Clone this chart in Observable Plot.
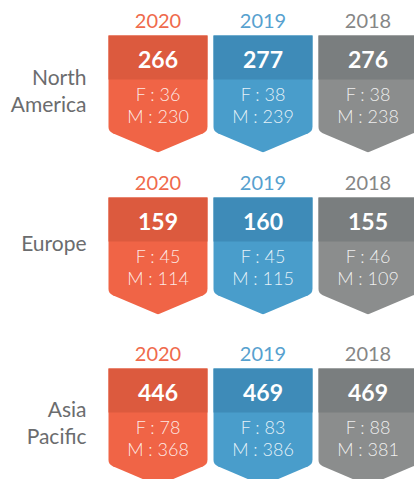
<!DOCTYPE html>
<html>
<head>
<meta charset="utf-8">
<script src="https://cdn.jsdelivr.net/npm/d3@7"></script>
<script src="https://cdn.jsdelivr.net/npm/@observablehq/plot@0.6"></script>
<style>
  html, body { margin: 0; padding: 0; background: #fff; }
  #chart svg { display: block; }
  g[aria-label="years"] text { letter-spacing: 0.6px; }
  g[aria-label="totals"] text { letter-spacing: 1.6px; }
  g[aria-label="split"] text { letter-spacing: 1.4px; }
  g[aria-label="region"] text { letter-spacing: 0.6px; }
</style>
</head>
<body>
<div id="chart"></div>
<script>
// ---- data ----
const regions = ["North America", "Europe", "Asia Pacific"];
const years = ["2020", "2019", "2018"];
const totals = [[266, 277, 276], [159, 160, 155], [446, 469, 469]];
const female = [[36, 38, 38], [45, 45, 46], [78, 83, 88]];
const male = [[230, 239, 238], [114, 115, 109], [368, 386, 381]];

// ---- styling ----
const yearColors = {"2020": "#ef6a4c", "2019": "#57a1cf", "2018": "#868686"};
const bodyColors = {"2020": "#f06446", "2019": "#499dcb", "2018": "#8b8d8d"};
const headColors = {"2020": "#dc5a3e", "2019": "#3e8bb8", "2018": "#7a7e7f"};
const panelHeights = [162, 171, 146];
const labelDy = [54, 45, 53];
const FONT = "Lato, 'Open Sans', sans-serif";

const W = 99, H = W / 2;
const badge = {
  draw(ctx) {
    ctx.moveTo(-H, 0);
    ctx.lineTo(H, 0);
    ctx.arcTo(H, 96, 0, 117, 7);
    ctx.arcTo(0, 117, -H, 96, 4);
    ctx.arcTo(-H, 96, -H, 0, 7);
    ctx.closePath();
  }
};
const head = {
  draw(ctx) {
    ctx.rect(-H, 0, W, 44);
  }
};

const chart = document.getElementById("chart");
regions.forEach((region, i) => {
  const rows = years.map((y, j) => ({
    year: y, total: totals[i][j], f: female[i][j], m: male[i][j]
  }));
  const plot = Plot.plot({
    width: 414,
    height: panelHeights[i],
    marginTop: 35,
    marginBottom: 0,
    marginLeft: 0,
    marginRight: 0,
    x: {type: "band", domain: years, range: [104, 421], padding: 0, axis: null},
    color: {type: "identity"},
    style: {fontFamily: FONT, background: "#fff"},
    marks: [
      Plot.dot(rows, {x: "year", frameAnchor: "top", symbol: badge, fill: d => bodyColors[d.year], stroke: "none"}),
      Plot.dot(rows, {x: "year", frameAnchor: "top", symbol: head, fill: d => headColors[d.year], stroke: "none"}),
      Plot.text(rows, {x: "year", frameAnchor: "top", dy: -14, text: "year", fill: d => yearColors[d.year],
        fontSize: 20, lineAnchor: "middle", ariaLabel: "years"}),
      Plot.text(rows, {x: "year", frameAnchor: "top", dy: 25, text: d => String(d.total), fill: "#fff",
        fontSize: 23, fontWeight: "bold", lineAnchor: "middle", ariaLabel: "totals"}),
      Plot.text(rows, {x: "year", frameAnchor: "top", dy: 60, text: d => `F : ${d.f}`, fill: "#fff", fillOpacity: 0.88,
        fontSize: 18, fontWeight: 300, lineAnchor: "middle", ariaLabel: "split"}),
      Plot.text(rows, {x: "year", frameAnchor: "top", dy: 82, text: d => `M : ${d.m}`, fill: "#fff", fillOpacity: 0.88,
        fontSize: 18, fontWeight: 300, lineAnchor: "middle", ariaLabel: "split"}),
      Plot.text([region], {frameAnchor: "top-left", dx: 86, dy: labelDy[i], text: d => d.replace(" ", "\n"),
        textAnchor: "end", lineAnchor: "middle", lineHeight: 1.3, fontSize: 21, fill: "#6b6c6e", ariaLabel: "region"})
    ]
  });
  chart.appendChild(plot);
});
</script>
</body>
</html>
